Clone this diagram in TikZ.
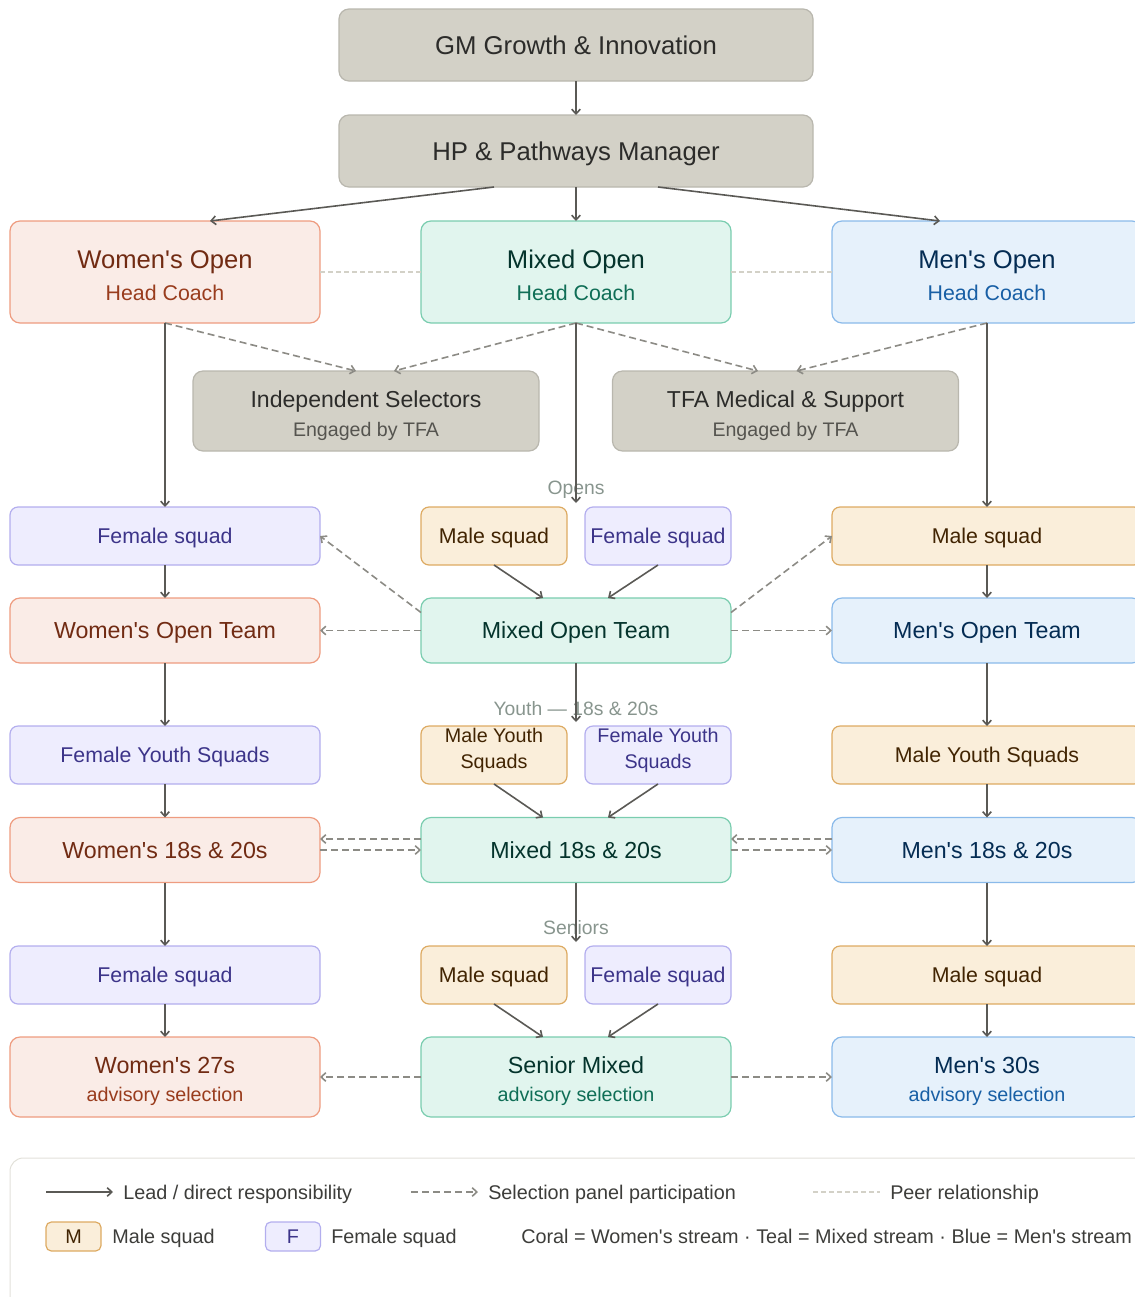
\documentclass[tikz,border=0pt]{standalone}
\usepackage{fontspec}
\setmainfont{Liberation Sans}[Ligatures=TeXOff]
\usepackage{tikz}
\usetikzlibrary{arrows.meta}
\usetikzlibrary{calc}

\definecolor{mgmtfill}{HTML}{D3D1C7}
\definecolor{mgmtdraw}{HTML}{B9B7AE}
\definecolor{mgmttext}{HTML}{2C2C2A}
\definecolor{mgmtsub}{HTML}{55544F}
\definecolor{coralfill}{HTML}{FAECE7}
\definecolor{coraldraw}{HTML}{EE9C80}
\definecolor{coraltext}{HTML}{712B13}
\definecolor{coralsub}{HTML}{993C1D}
\definecolor{tealfill}{HTML}{E1F5EE}
\definecolor{tealdraw}{HTML}{7ACDAF}
\definecolor{tealtext}{HTML}{04342C}
\definecolor{tealsub}{HTML}{0F6E56}
\definecolor{bluefill}{HTML}{E6F1FB}
\definecolor{bluedraw}{HTML}{8ABAEA}
\definecolor{bluetext}{HTML}{042C53}
\definecolor{bluesub}{HTML}{185FA5}
\definecolor{amberfill}{HTML}{FAEEDA}
\definecolor{amberdraw}{HTML}{DDAA62}
\definecolor{ambertext}{HTML}{412402}
\definecolor{purplefill}{HTML}{EEEDFE}
\definecolor{purpledraw}{HTML}{B3AEEE}
\definecolor{purpletext}{HTML}{3C3489}
\definecolor{leadgray}{HTML}{5A5955}
\definecolor{panelgray}{HTML}{8C8B85}
\definecolor{peergray}{HTML}{D3D1C7}
\definecolor{stagegray}{HTML}{88958E}
\definecolor{legendtext}{HTML}{3D3D3A}
\definecolor{legendframe}{HTML}{E2E1DA}

% second, smaller line of a box: colour, size, text
\newcommand{\subline}[3]{{\fontsize{#2}{#2}\selectfont\color{#1}#3}}

\tikzset{
  >={Straight Barb[length=3.5pt,width=6.5pt]},
  box/.style={rectangle, rounded corners=7.5pt, inner sep=0pt, outer sep=0pt,
    line width=0.9pt, align=center, text depth=0pt},
  mgmt/.style={box, fill=mgmtfill, draw=mgmtdraw, text=mgmttext,
    minimum width=355.5pt, minimum height=54pt, font=\fontsize{19.3}{24}\selectfont},
  support/.style={box, fill=mgmtfill, draw=mgmtdraw, text=mgmttext, text height=38.25pt,
    minimum width=259.5pt, minimum height=60pt, font=\fontsize{17.3}{21.75}\selectfont},
  womens/.style={box, fill=coralfill, draw=coraldraw, text=coraltext},
  mixed/.style={box, fill=tealfill, draw=tealdraw, text=tealtext},
  mens/.style={box, fill=bluefill, draw=bluedraw, text=bluetext},
  head/.style={minimum width=232.5pt, minimum height=76.5pt, text height=42pt,
    font=\fontsize{19.2}{24}\selectfont},
  team/.style={minimum width=232.5pt, minimum height=48.75pt, font=\fontsize{17.4}{21}\selectfont},
  senior/.style={minimum width=232.5pt, minimum height=60pt, text height=36pt,
    font=\fontsize{17.5}{21}\selectfont},
  male/.style={box, rounded corners=6pt, fill=amberfill, draw=amberdraw, text=ambertext,
    minimum height=43.5pt, font=\fontsize{16}{19.5}\selectfont},
  female/.style={box, rounded corners=6pt, fill=purplefill, draw=purpledraw, text=purpletext,
    minimum height=43.5pt, font=\fontsize{16}{19.5}\selectfont},
  wide/.style={minimum width=232.5pt},
  narrow/.style={minimum width=109.5pt},
  youthtext/.style={text height=19.5pt, font=\fontsize{14.8}{19.5}\selectfont},
  stage/.style={text=stagegray, inner sep=0pt, text depth=0pt, font=\fontsize{14.5}{17}\selectfont},
  lead/.style={->, line width=1.2pt, draw=leadgray},
  panel/.style={->, line width=1.2pt, draw=panelgray, dash pattern=on 5.25pt off 3pt},
  peer/.style={line width=0.8pt, draw=peergray, dash pattern=on 3.5pt off 2.5pt},
  legend/.style={text=legendtext, anchor=west, inner sep=0pt, text depth=0pt,
    font=\fontsize{14.85}{18}\selectfont},
  keybox/.style={rounded corners=4pt, minimum width=41.25pt, minimum height=21.75pt,
    font=\fontsize{14.85}{18}\selectfont},
}

\begin{document}
\begin{tikzpicture}[x=0.75pt, y=-0.75pt]
\useasboundingbox (0,0) rectangle (1135,1297);

% management
\node[mgmt] (gm) at (576,45) {GM Growth \& Innovation};
\node[mgmt] (hp) at (576,151) {HP \& Pathways Manager};

\node[womens, head] (woc) at (165,272) {Women's Open\\\subline{coralsub}{16}{Head Coach}};
\node[mixed, head] (moc) at (576,272) {Mixed Open\\\subline{tealsub}{16}{Head Coach}};
\node[mens, head] (mnc) at (987,272) {Men's Open\\\subline{bluesub}{16}{Head Coach}};

\node[support] (sel) at (366,411) {Independent Selectors\\\subline{mgmtsub}{14.7}{Engaged by TFA}};
\node[support] (med) at (785.5,411) {TFA Medical \& Support\\\subline{mgmtsub}{14.7}{Engaged by TFA}};

\draw[lead] (gm) -- (hp);
\draw[lead] ($(hp.south)+(-82,0)$) -- ($(woc.north)+(45,0)$);
\draw[lead] (hp) -- (moc);
\draw[lead] ($(hp.south)+(82,0)$) -- ($(mnc.north)+(-47,0)$);
\draw[peer] (woc) -- (moc);
\draw[peer] (moc) -- (mnc);
\draw[panel] (woc.south) -- ($(sel.north)+(-10,0)$);
\draw[panel] (moc.south) -- ($(sel.north)+(28,0)$);
\draw[panel] (moc.south) -- ($(med.north)+(-27.5,0)$);
\draw[panel] (mnc.south) -- ($(med.north)+(11,0)$);

% opens
\node[stage] (opens) at (576,488) {Opens};
\node[female, wide] (wsq) at (165,536) {Female squad};
\node[male, narrow] (mosq) at (494,536) {Male squad};
\node[female, narrow] (mofq) at (658,536) {Female squad};
\node[male, wide] (msq) at (987,536) {Male squad};

\node[womens, team] (wot) at (165,630.5) {Women's Open Team};
\node[mixed, team] (mot) at (576,630.5) {Mixed Open Team};
\node[mens, team] (mnt) at (987,630.5) {Men's Open Team};

\coordinate (opensin) at (576,503);
\draw[lead] (woc) -- (wsq);
\draw[lead] (moc) -- (opensin);
\draw[lead] (mnc) -- (msq);
\draw[lead] (wsq) -- (wot);
\draw[lead] (msq) -- (mnt);
\draw[lead] (mosq.south) -- ($(mot.north)+(-33,0)$);
\draw[lead] (mofq.south) -- ($(mot.north)+(32,0)$);
\draw[panel] ($(mot.west)+(0,-18)$) -- (wsq.east);
\draw[panel] ($(mot.east)+(0,-18)$) -- (msq.west);
\draw[panel] (mot) -- (wot);
\draw[panel] (mot) -- (mnt);

% youth
\node[stage] (youth) at (576,708) {Youth — 18s \& 20s};
\node[female, wide] (wys) at (165,755) {Female Youth Squads};
\node[male, narrow, youthtext] (myc) at (494,755) {Male Youth\\Squads};
\node[female, narrow, youthtext] (fyc) at (658,755) {Female Youth\\Squads};
\node[male, wide] (mys) at (987,755) {Male Youth Squads};

\node[womens, team] (w18) at (165,850) {Women's 18s \& 20s};
\node[mixed, team] (x18) at (576,850) {Mixed 18s \& 20s};
\node[mens, team] (m18) at (987,850) {Men's 18s \& 20s};

\coordinate (youthin) at (576,722);
\draw[lead] (wot) -- (wys);
\draw[lead] (mot) -- (youthin);
\draw[lead] (mnt) -- (mys);
\draw[lead] (wys) -- (w18);
\draw[lead] (mys) -- (m18);
\draw[lead] (myc.south) -- ($(x18.north)+(-33,0)$);
\draw[lead] (fyc.south) -- ($(x18.north)+(32,0)$);
\draw[panel] ($(x18.west)+(0,-11)$) -- ($(w18.east)+(0,-11)$);
\draw[panel] (w18) -- (x18);
\draw[panel] ($(m18.west)+(0,-11)$) -- ($(x18.east)+(0,-11)$);
\draw[panel] (x18) -- (m18);

% seniors
\node[stage] (seniors) at (576,927) {Seniors};
\node[female, wide] (wss) at (165,975) {Female squad};
\node[male, narrow] (mss) at (494,975) {Male squad};
\node[female, narrow] (fss) at (658,975) {Female squad};
\node[male, wide] (mns) at (987,975) {Male squad};

\node[womens, senior] (w27) at (165,1077) {Women's 27s\\\subline{coralsub}{14.8}{advisory selection}};
\node[mixed, senior] (smx) at (576,1077) {Senior Mixed\\\subline{tealsub}{14.8}{advisory selection}};
\node[mens, senior] (m30) at (987,1077) {Men's 30s\\\subline{bluesub}{14.8}{advisory selection}};

\coordinate (seniorsin) at (576,942);
\draw[lead] (w18) -- (wss);
\draw[lead] (x18) -- (seniorsin);
\draw[lead] (m18) -- (mns);
\draw[lead] (wss) -- (w27);
\draw[lead] (mns) -- (m30);
\draw[lead] (mss.south) -- ($(smx.north)+(-33,0)$);
\draw[lead] (fss.south) -- ($(smx.north)+(32,0)$);
\draw[panel] (smx) -- (w27);
\draw[panel] (smx) -- (m30);

% legend
\draw[rounded corners=10pt, draw=legendframe, line width=0.75pt] (10,1158) rectangle (1150,1330);
\coordinate (leadA) at (46,1192);
\coordinate (leadB) at (113,1192);
\draw[lead] (leadA) -- (leadB);
\node[legend] (leadtxt) at (123,1192) {Lead / direct responsibility};
\coordinate (panelA) at (411,1192);
\coordinate (panelB) at (478,1192);
\draw[panel] (panelA) -- (panelB);
\node[legend] (paneltxt) at (488,1192) {Selection panel participation};
\coordinate (peerA) at (813,1192);
\coordinate (peerB) at (880,1192);
\draw[peer] (peerA) -- (peerB);
\node[legend] (peertxt) at (890,1192) {Peer relationship};

\node[male, keybox] (keym) at (73.5,1236.5) {M};
\node[legend] (keymtxt) at (112,1236.5) {Male squad};
\node[female, keybox] (keyf) at (293,1236.5) {F};
\node[legend] (keyftxt) at (331,1236.5) {Female squad};
\node[legend] (keystream) at (521,1236.5) {Coral = Women's stream · Teal = Mixed stream · Blue = Men's stream};
\end{tikzpicture}
\end{document}
